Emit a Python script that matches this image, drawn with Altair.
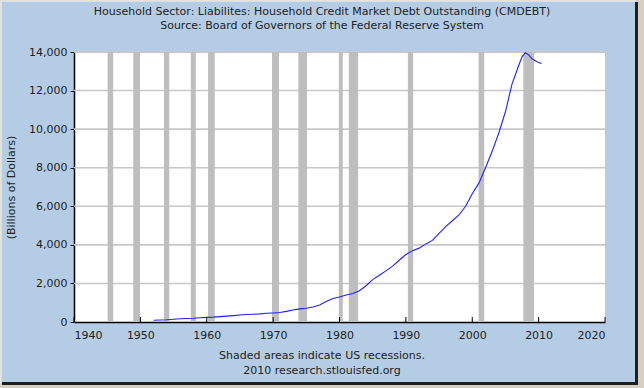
import altair as alt
import pandas as pd

# Household credit market debt outstanding, billions of dollars
years = [1952, 1953, 1954, 1955, 1956, 1957, 1958, 1959, 1960, 1961, 1962, 1963,
         1964, 1965, 1966, 1967, 1968, 1969, 1970, 1971, 1972, 1973, 1974, 1975,
         1976, 1977, 1978, 1979, 1980, 1981, 1982, 1983, 1984, 1985, 1986, 1987,
         1988, 1989, 1990, 1991, 1992, 1993, 1994, 1995, 1996, 1997, 1998, 1999,
         2000, 2001, 2002, 2003, 2004, 2005, 2006, 2007, 2007.5, 2008, 2008.5,
         2009, 2009.5, 2010, 2010.45]
debt = [88, 100, 115, 145, 165, 180, 195, 220, 240, 255, 280, 305,
        330, 360, 385, 400, 420, 450, 470, 490, 550, 620, 680, 710,
        780, 880, 1060, 1220, 1300, 1400, 1480, 1620, 1880, 2200, 2420, 2650,
        2900, 3200, 3500, 3700, 3830, 4050, 4230, 4600, 4950, 5250, 5550, 6000,
        6650, 7200, 8000, 8850, 9800, 10900, 12350, 13300, 13750, 13960, 13850,
        13650, 13550, 13450, 13400]

# US recessions (start, end as fractional years)
rec_start = [1945.07, 1948.93, 1953.55, 1957.6, 1960.2, 1969.83, 1973.8,
             1979.9, 1981.4, 1990.3, 2000.95, 2007.7]
rec_end = [1945.9, 1949.94, 1954.35, 1958.35, 1961.2, 1970.88, 1975.1,
           1980.5, 1982.8, 1991.1, 2001.8, 2009.3]

x_ticks = [1940, 1950, 1960, 1970, 1980, 1990, 2000, 2010, 2020]
y_ticks = [0, 2000, 4000, 6000, 8000, 10000, 12000, 14000]

title_lines = ["Household Sector: Liabilites: Household Credit Market Debt Outstanding (CMDEBT)",
               "Source: Board of Governors of the Federal Reserve System"]
footer_lines = ["Shaded areas indicate US recessions.",
                "2010 research.stlouisfed.org"]

FONT = "DejaVu Sans"
PANEL = "#b5cde4"
W, H = 531, 270
PAD_L, PAD_T = 74, 52

series = pd.DataFrame({"year": years, "debt": debt})
recessions = pd.DataFrame({"start": rec_start, "end": rec_end})
xt = pd.DataFrame({"year": x_ticks})
yt = pd.DataFrame({"level": y_ticks[1:]})
one = pd.DataFrame({"k": [0]})

x_scale = alt.Scale(domain=[1940, 2020], nice=False, zero=False)
y_scale = alt.Scale(domain=[0, 14000], nice=False)

x_axis = alt.Axis(values=x_ticks, format="d", ticks=False, grid=False,
                  labelPadding=7, labelOverlap=False,
                  domainColor="#000000", domainWidth=1.5,
                  labelFont=FONT, labelFontSize=11, labelColor="#222222",
                  title=None)
y_axis = alt.Axis(values=y_ticks, format=",d", tickSize=4, tickColor="#000000",
                  grid=False, labelOverlap=False,
                  domainColor="#000000", domainWidth=1.5,
                  labelPadding=3, labelFont=FONT, labelFontSize=11,
                  labelColor="#222222", title="(Billions of Dollars)",
                  titleFont=FONT, titleFontSize=11, titleFontWeight="normal",
                  titleColor="#222222", titlePadding=12)

# horizontal gridlines
grid = alt.Chart(yt).mark_rule(color="#c8c8c8", strokeWidth=1.6).encode(
    y=alt.Y("level:Q", scale=y_scale, axis=y_axis),
    x=alt.value(0),
    x2=alt.value(W),
)

bands = alt.Chart(recessions).mark_rect(color="#bebebe").encode(
    x=alt.X("start:Q", scale=x_scale, axis=x_axis),
    x2="end:Q",
    y=alt.value(0),
    y2=alt.value(H),
)

line = alt.Chart(series).mark_line(color="#2020ff", strokeWidth=1.1).encode(
    x=alt.X("year:Q", scale=x_scale, axis=x_axis),
    y=alt.Y("debt:Q", scale=y_scale, axis=y_axis),
)

# inward tick marks on the date axis
tick_marks = alt.Chart(xt).mark_rule(color="#000000", strokeWidth=1).encode(
    x=alt.X("year:Q", scale=x_scale, axis=x_axis),
    y=alt.value(H - 5),
    y2=alt.value(H),
)


def text_layer(txt, cy):
    return alt.Chart(one).mark_text(
        text=txt, font=FONT, fontSize=11, color="#222222",
        align="center", baseline="middle",
    ).encode(x=alt.value(322 - PAD_L), y=alt.value(cy - PAD_T))


# panel frame: dark edge and outer margin at right and bottom
def frame_rect(x0, x1, y0, y1, color):
    return alt.Chart(one).mark_rect(color=color).encode(
        x=alt.value(x0 - PAD_L), x2=alt.value(x1 - PAD_L),
        y=alt.value(y0 - PAD_T), y2=alt.value(y1 - PAD_T),
    )


frame = [
    frame_rect(0, 644, 0, 1, "#e6e2da"),
    frame_rect(0, 1, 0, 388, "#e6e2da"),
    frame_rect(1, 636, 1, 2, "#d4e2f0"),
    frame_rect(1, 2, 1, 383, "#d4e2f0"),
    frame_rect(636, 644, 0, 388, "#d6cfc2"),
    frame_rect(0, 644, 384, 388, "#d6cfc2"),
    frame_rect(635, 638, 2, 385, "#1e1e1e"),
    frame_rect(2, 638, 382, 385, "#1e1e1e"),
]

texts = [
    text_layer(title_lines[0], 12),
    text_layer(title_lines[1], 26),
    text_layer(footer_lines[0], 356),
    text_layer(footer_lines[1], 371),
]

chart = alt.layer(grid, bands, line, tick_marks, *texts, *frame).resolve_scale(
    x="shared", y="shared"
).properties(
    width=W,
    height=H,
    background=PANEL,
    padding={"left": PAD_L, "top": PAD_T, "right": 644 - PAD_L - W,
             "bottom": 388 - PAD_T - H},
    autosize=alt.AutoSizeParams(type="none"),
).configure_view(
    fill="#ffffff", stroke="#c8c8c8", strokeWidth=1
)

chart.save("out.html", embed_options={"renderer": "svg", "actions": False})
